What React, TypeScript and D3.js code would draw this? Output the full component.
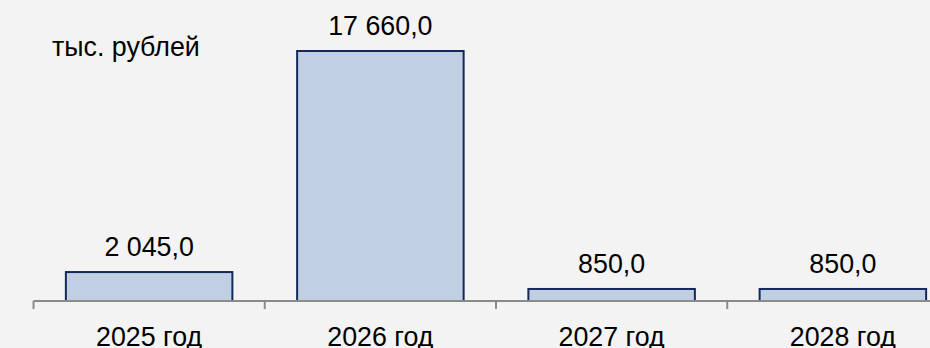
import React from "react";
import * as d3 from "d3";

const categories = ["2025 год", "2026 год", "2027 год", "2028 год"];
const values = [2045.0, 17660.0, 850.0, 850.0];
const unitLabel = "тыс. рублей";

const W = 930;
const H = 348;
const FONT = "'Liberation Sans', Arial, Helvetica, sans-serif";
const FS = 26.8;

const fmt = (v: number) => {
  const s = v.toFixed(1).replace(".", ",");
  const [intPart, dec] = s.split(",");
  const grouped = intPart.replace(/\B(?=(\d{3})+(?!\d))/g, " ");
  return `${grouped},${dec}`;
};

export default function App() {
  const x = d3.scaleBand<string>().domain(categories).range([33.5, 958.5]).paddingInner(0.28).paddingOuter(0.14);
  const y = d3.scaleLinear().domain([0, 17660]).range([301, 51]);
  const step = x.step();
  const ticks = d3.range(categories.length + 1).map((i) => 33.5 + i * step);

  return (
    <svg
      width={W}
      height={H}
      style={{ position: "fixed", left: 0, top: 0, background: "#f3f3f3" }}
      fontFamily={FONT}
    >
      <rect x={0} y={0} width={W} height={H} fill="#f3f3f3" />
      <text x={52} y={56} fontSize={FS} fill="#000">
        {unitLabel}
      </text>
      {categories.map((c, i) => (
        <g key={c}>
          <rect
            x={x(c)!}
            y={y(values[i])}
            width={x.bandwidth()}
            height={y(0) - y(values[i])}
            fill="#c1cfe2"
            stroke="#13295c"
            strokeWidth={2}
          />
          <text
            x={x(c)! + x.bandwidth() / 2}
            y={y(values[i]) - 16}
            textAnchor="middle"
            fontSize={FS}
            fill="#000"
          >
            {fmt(values[i])}
          </text>
          <text
            x={x(c)! + x.bandwidth() / 2}
            y={345.5}
            textAnchor="middle"
            fontSize={FS}
            fill="#000"
          >
            {c}
          </text>
        </g>
      ))}
      <line x1={33.5} x2={W} y1={301} y2={301} stroke="#8a8a8a" strokeWidth={2} />
      {ticks.map((t, i) => (
        <line key={i} x1={t} x2={t} y1={301} y2={309} stroke="#8a8a8a" strokeWidth={2} />
      ))}
    </svg>
  );
}
